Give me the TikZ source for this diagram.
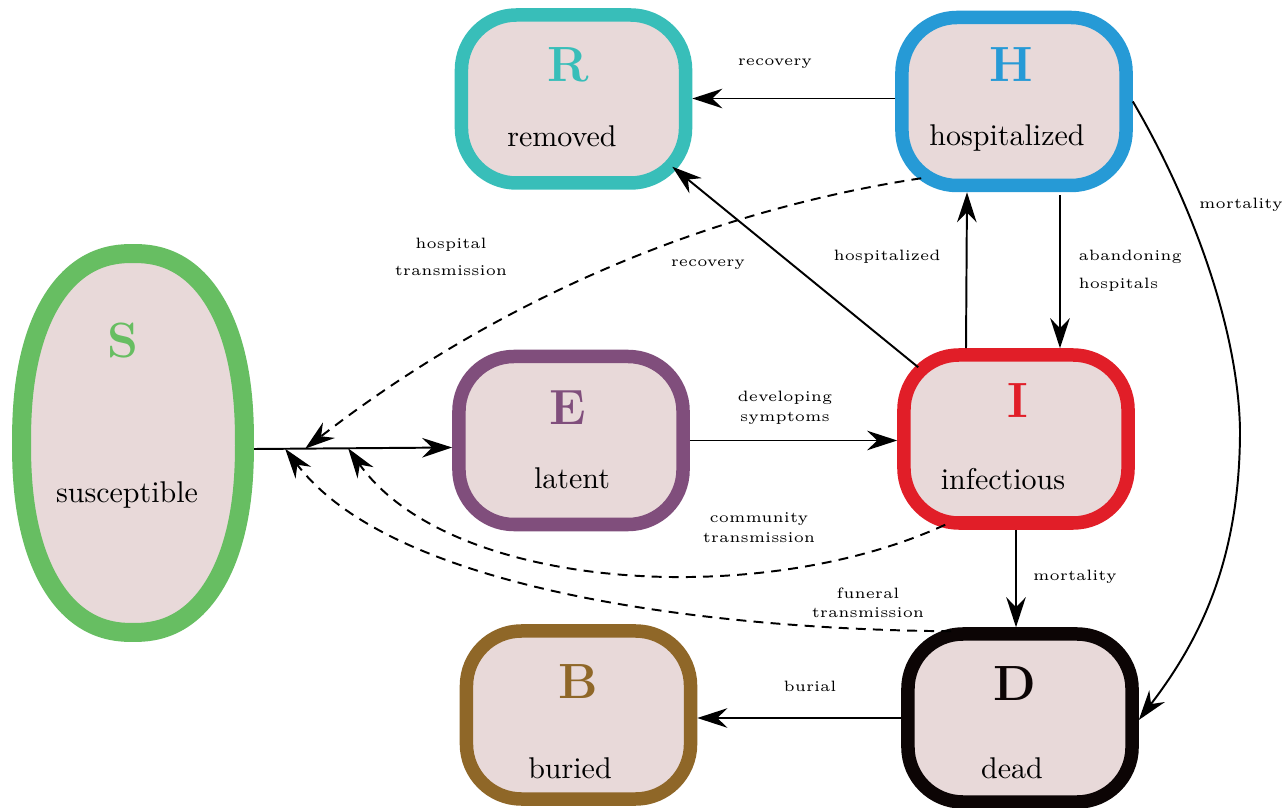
\documentclass[tikz,border=0pt]{standalone}
\usetikzlibrary{arrows.meta,calc}
\definecolor{fillc}{RGB}{232,217,217}
\definecolor{cS}{RGB}{103,190,98}
\definecolor{cR}{RGB}{56,190,185}
\definecolor{cH}{RGB}{38,154,214}
\definecolor{cE}{RGB}{128,78,124}
\definecolor{cI}{RGB}{225,30,40}
\definecolor{cB}{RGB}{143,103,40}
\definecolor{cD}{RGB}{12,5,5}
\tikzset{
  compbox/.style={draw=#1, fill=fillc, rectangle, rounded corners=18.3pt,
    line width=4.5pt, minimum width=74.7pt, minimum height=56pt, inner sep=0pt},
  letter/.style={anchor=base, font=\fontsize{16.5}{18}\selectfont\bfseries, text=#1},
  word/.style={anchor=base, font=\normalsize},
  lab/.style={font=\fontsize{5}{6.5}\selectfont, align=center, inner sep=0pt},
  labwide/.style={font=\fontsize{5}{9.2}\selectfont, inner sep=0pt},
  arr/.style={line width=0.65pt, -{Stealth[length=10pt,width=6.5pt,inset=3.3pt]}},
  darr/.style={arr, dash pattern=on 3.3pt off 2.4pt},
}
\begin{document}
\begin{tikzpicture}[x=0.33333pt,y=-0.33333pt]
\useasboundingbox (0,0) rectangle (1287,808);
% compartments
\node[rectangle, minimum width=80.7pt, minimum height=132.7pt, inner sep=0pt, outer sep=0pt] (S) at (133,443) {};
\draw[draw=cS, fill=fillc, line width=6.33pt]
  plot[domain=0.5:360.5, samples=181]
  ({133+111.5*cos(\x)*abs(cos(\x))^(-0.13)}, {443+189.5*sin(\x)*abs(sin(\x))^(-0.13)}) -- cycle;
\node[compbox=cR] (R) at (573.5,99) {};
\node[compbox=cH] (H) at (1014,101.5) {};
\node[compbox=cE] (E) at (571,440.5) {};
\node[compbox=cI] (I) at (1016,439) {};
\node[compbox=cB] (B) at (578.5,715) {};
\node[compbox=cD] (D) at (1020,718) {};
% texts in compartments
\node[letter=cS] (tS) at (122.5,358) {S};
\node[word] (wS) at (127,503) {susceptible};
\node[letter=cR] (tR) at (568,82) {R};
\node[word] (wR) at (562,147) {removed};
\node[letter=cH] (tH) at (1011.5,82) {H};
\node[word] (wH) at (1007,146) {hospitalized};
\node[letter=cE] (tE) at (568,425) {E};
\node[word] (wE) at (572,489) {latent};
\node[letter=cI] (tI) at (1018,418) {I};
\node[word] (wI) at (1003,490) {infectious};
\node[letter=cB] (tB) at (578,698) {B};
\node[word] (wB) at (570,778) {buried};
\node[letter=cD] (tD) at (1015,700) {D};
\node[word] (wD) at (1012,778) {dead};
% solid connectors
\draw[arr] ($(S.east)+(0,6)$) -- coordinate[pos=0.258] (mH) coordinate[pos=0.475] (mC) coordinate[pos=0.157] (mF) ($(E.west)+(0,7)$);
\draw[arr] (E.east) -- (E.east -| I.west);
\draw[arr] ($(H.west)+(0,-3)$) -- ($(H.west -| R.east)+(0,-3)$);
\draw[arr] ($(I.north west)+(21,19)$) -- ($(R.south east)+(-20,-23)$);
\draw[arr] ($(I.north)+(-50,0)$) -- ($(H.south)+(-47,0)$);
\draw[arr] ($(H.south)+(46,3)$) -- ($(I.north)+(44,0)$);
\draw[arr] (I.south) -- (I.south |- D.north);
\draw[arr] (D.west) -- (D.west -| B.east);
\coordinate (k) at (1240,430);
\draw[arr] (H.east) .. controls (1185,190) and (1238,320) .. (k)
  .. controls (1240,560) and (1200,640) .. ($(D.east)+(0,2)$);
% dashed connectors
\draw[darr] ($(H.south west)+(26,-14)$) .. controls (680,215) and (475,317) .. (mH);
\draw[darr] ($(I.south west)+(48,-5)$) .. controls (760,610) and (450,592) .. (mC);
\draw[darr] ($(D.north west)+(50,4)$) .. controls (750,630) and (400,600) .. (mF);
% labels
\node[lab] (l1) at (775,64) {recovery};
\node[lab] (l2) at (708,265) {recovery};
\node[lab] (l3) at (887,257) {hospitalized};
\node[labwide, align=left, anchor=west] (l4) at (1078,270.5) {abandoning\\hospitals};
\node[lab] (l5) at (1241,205) {mortality};
\node[labwide, align=center] (l6) at (451,257) {hospital\\transmission};
\node[lab] (l7) at (785,408) {developing\\symptoms};
\node[lab] (l8) at (759,527.5) {community\\transmission};
\node[lab] (l9) at (868,603) {funeral\\transmission};
\node[lab] (l10) at (1075,577) {mortality};
\node[lab] (l11) at (810,686) {burial};
\end{tikzpicture}
\end{document}
